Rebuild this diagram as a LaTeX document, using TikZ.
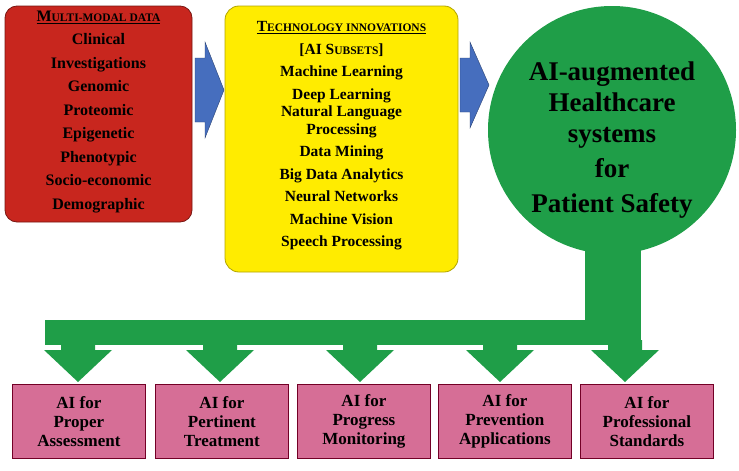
\documentclass[tikz,border=0pt]{standalone}
\usepackage{fontspec}
\setmainfont{Liberation Serif}
\newcommand{\fsc}[2]{#1{\fontsize{11.5}{12}\selectfont #2}}
\begin{document}
\begin{tikzpicture}[x=1pt,y=-1pt,
  pinkbox/.style={draw=purple!60!black,line width=0.8pt,minimum width=133pt,minimum height=74pt,font=\bfseries\fontsize{17}{19}\selectfont,align=center,anchor=north west}]
\useasboundingbox (0,0) rectangle (739,471);
\definecolor{redb}{RGB}{200,38,30}
\definecolor{yel}{RGB}{255,236,0}
\definecolor{grnc}{RGB}{31,158,72}
\definecolor{pinkc}{RGB}{214,110,150}
\definecolor{bluc}{RGB}{70,110,190}
% red box
\draw[fill=redb,draw=redb!60!black,rounded corners=12pt,line width=0.8pt] (5,6) rectangle (192,222);
\node[font=\bfseries\fontsize{16}{23.5}\selectfont,align=center] (red) at (98.5,112) {\underline{\fsc{M}{ULTI-MODAL DATA}}\\Clinical\\Investigations\\Genomic\\Proteomic\\Epigenetic\\Phenotypic\\Socio-economic\\Demographic};
% arrows
\fill[bluc,draw=bluc!60!black] (195,58) -- (205,58) -- (205,42) -- (224,90) -- (205,138) -- (205,122) -- (195,122) -- cycle;
\fill[bluc,draw=bluc!60!black] (460,58) -- (470,58) -- (470,42) -- (489,85) -- (470,128) -- (470,112) -- (460,112) -- cycle;
% yellow
\draw[fill=yel,draw=yel!70!black,rounded corners=14pt,line width=0.8pt] (225,6) rectangle (458,272);
\node[font=\bfseries\fontsize{15.5}{22.5}\selectfont,align=center] (yel) at (341.5,136) {\underline{\fsc{T}{ECHNOLOGY INNOVATIONS}}\\{}[AI \fsc{S}{UBSETS}]\\Machine Learning\\Deep Learning\\[-5pt]Natural Language\\[-5pt]Processing\\Data Mining\\Big Data Analytics\\Neural Networks\\Machine Vision\\Speech Processing};
% green circle and stem
\fill[grnc] (585,200) rectangle (641,345);
\fill[grnc] (45,320) rectangle (641,345);
\foreach \c in {78,220,360,500,625}{
  \fill[grnc] (\c-17,340) rectangle (\c+17,350) (\c-34,350) -- (\c+34,350) -- (\c,382) -- cycle;}
\fill[grnc] (612,130) circle (124);
\node[font=\bfseries\fontsize{27}{31}\selectfont,align=center] (hc) at (612,140) {AI-augmented\\Healthcare\\systems\\[4pt]for\\[4pt]Patient Safety};
% bottom boxes
\foreach \x/\n/\t in {12/a/{AI for\\Proper\\Assessment},155/b/{AI for\\Pertinent\\Treatment},297/c/{AI for\\Progress\\Monitoring},438/d/{AI for\\Prevention\\Applications},580/e/{AI for\\Professional\\Standards}}
  \node[pinkbox,fill=pinkc] (\n) at (\x,384) {\t};
\end{tikzpicture}
\end{document}
